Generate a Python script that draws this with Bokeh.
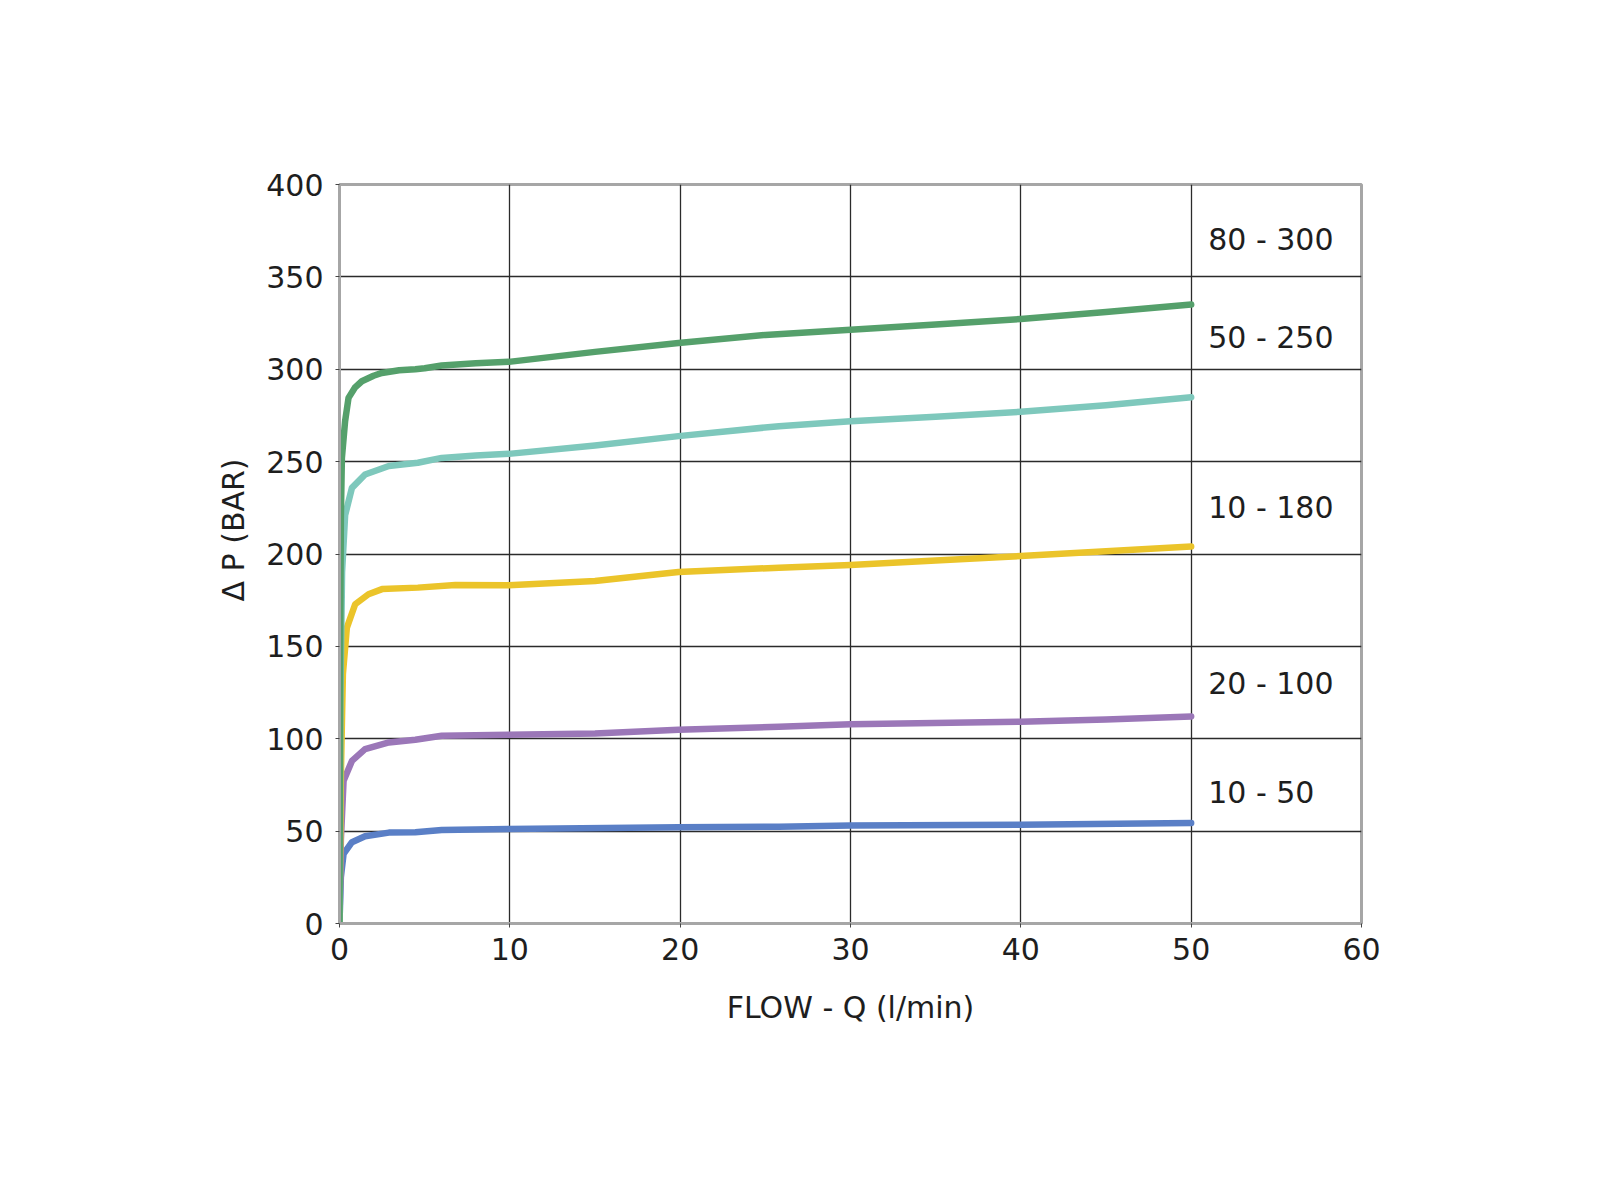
from bokeh.plotting import figure
from bokeh.models import Range1d, SingleIntervalTicker, ColumnDataSource, Title
from bokeh.core.properties import value
from bokeh.embed import file_html
from bokeh.resources import INLINE

# ---- data ----
green_q = [0, 0.04, 0.08, 0.14, 0.33, 0.53, 0.9, 1.31, 2.0, 2.49, 3.5, 4.45, 5.0, 6.0, 8.0, 9.94, 15.0, 19.9, 25.0, 30.0, 35.0, 40.0, 45.0, 50.0]
green_p = [0, 150, 220, 252, 272, 284.5, 290, 293.5, 296.5, 298, 299.5, 300, 300.5, 302, 303.3, 304, 309.4, 314.2, 318.6, 321.4, 324.2, 327.2, 331, 335]

teal_q = [0, 0.05, 0.15, 0.33, 0.73, 1.5, 2.9, 4.6, 6.0, 8.0, 9.94, 15.0, 19.9, 25.8, 30.0, 35.0, 40.0, 45.0, 50.0]
teal_p = [0, 120, 190, 221, 235.8, 243, 247.6, 249.4, 252, 253.3, 254.2, 258.7, 263.8, 269.2, 271.9, 274.3, 277, 280.5, 284.9]

yellow_q = [0, 0.08, 0.2, 0.43, 0.92, 1.7, 2.5, 4.6, 6.8, 9.94, 15.0, 19.9, 25.8, 30.0, 35.0, 40.0, 45.0, 50.0]
yellow_p = [0, 80, 135, 160, 172.8, 178.2, 181, 181.8, 183.2, 183.1, 185.4, 190.3, 192.6, 194, 196.5, 198.9, 201.5, 204]

purple_q = [0, 0.08, 0.24, 0.73, 1.5, 2.9, 4.45, 6.0, 9.94, 15.0, 19.9, 25.8, 30.0, 40.0, 45.0, 50.0]
purple_p = [0, 45, 77.3, 88, 94.4, 98, 99.5, 101.6, 102.2, 102.9, 104.9, 106.5, 107.9, 109.2, 110.4, 112.1]

blue_q = [0, 0.08, 0.24, 0.73, 1.5, 2.9, 4.45, 6.0, 9.94, 19.9, 25.8, 30.0, 40.0, 50.0]
blue_p = [0, 25, 37.7, 44, 47.2, 49.2, 49.4, 50.6, 51.2, 52.1, 52.4, 53, 53.5, 54.4]

series_labels = ["80 - 300", "50 - 250", "10 - 180", "20 - 100", "10 - 50"]
label_q = [51.0, 51.0, 51.0, 51.0, 51.0]
label_p = [370, 317, 225, 130, 71]

x_ticks_interval = 10
y_ticks_interval = 50

FONT = "DejaVu Sans"
TXT = "#1e1e1e"

p = figure(width=1584, height=1150, output_backend="svg", toolbar_location=None,
           x_range=Range1d(0, 60), y_range=Range1d(0, 400),
           min_border_left=339, min_border_right=223, min_border_top=184, min_border_bottom=227,
           background_fill_color="white", border_fill_color="white")

p.outline_line_color = "#a6a6a6"
p.outline_line_width = 3

p.xaxis.ticker = SingleIntervalTicker(interval=x_ticks_interval)
p.yaxis.ticker = SingleIntervalTicker(interval=y_ticks_interval)

for ax in (p.xaxis, p.yaxis):
    ax.axis_line_color = "#a6a6a6"
    ax.axis_line_width = 3
    ax.major_tick_line_color = "#444444"
    ax.major_tick_line_width = 1
    ax.major_tick_in = 0
    ax.major_tick_out = 4
    ax.minor_tick_line_color = None
    ax.major_label_text_font = FONT
    ax.major_label_text_font_size = "30px"
    ax.major_label_text_color = TXT
    ax.axis_label_text_font = FONT
    ax.axis_label_text_font_size = "30px"
    ax.axis_label_text_font_style = "normal"
    ax.axis_label_text_color = TXT

p.xaxis.axis_label = "FLOW - Q (l/min)"
p.xaxis.major_label_standoff = 10
p.yaxis.major_label_standoff = 12
p.xaxis.axis_label_standoff = 27

# y-axis title as a side title so it can sit a little above the frame centre
ytitle = Title(text="\u0394 P (BAR)", align="left", offset=322, standoff=26,
               text_font=FONT, text_font_size="30px", text_font_style="normal",
               text_color=TXT)
p.add_layout(ytitle, "left")

p.xgrid.grid_line_color = "#2b2b2b"
p.ygrid.grid_line_color = "#2b2b2b"
p.xgrid.grid_line_width = 1.3
p.ygrid.grid_line_width = 1.3

LW = 6.5
p.line(blue_q, blue_p, line_color="#5a7fc6", line_width=LW, line_cap="round", line_join="round")
p.line(purple_q, purple_p, line_color="#9b77b8", line_width=LW, line_cap="round", line_join="round")
p.line(yellow_q, yellow_p, line_color="#ebc42a", line_width=LW, line_cap="round", line_join="round")
p.line(teal_q, teal_p, line_color="#7ec8bc", line_width=LW, line_cap="round", line_join="round")
p.line(green_q, green_p, line_color="#55a06b", line_width=LW, line_cap="round", line_join="round")

src = ColumnDataSource(dict(x=label_q, y=label_p, t=series_labels))
p.text(x="x", y="y", text="t", source=src, text_font=value(FONT), text_font_size="30px",
       text_color=TXT, text_align="left", text_baseline="middle")

open("out.html", "w").write(file_html(p, INLINE))
